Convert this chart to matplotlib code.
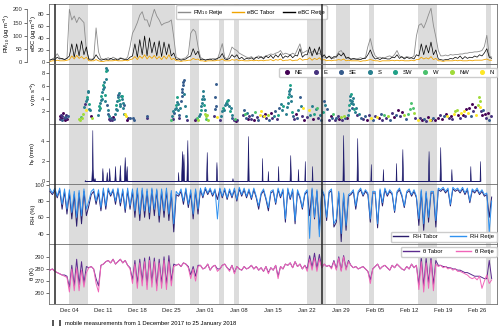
import matplotlib
matplotlib.use('Agg')
import matplotlib.pyplot as plt
import matplotlib.dates as mdates
from matplotlib.lines import Line2D
import numpy as np
import pandas as pd

plt.rcParams['font.family'] = ['Liberation Sans', 'DejaVu Sans']
plt.rcParams['font.size'] = 4.2
plt.rcParams['mathtext.fontset'] = 'custom'
plt.rcParams['mathtext.rm'] = 'Liberation Sans'
plt.rcParams['mathtext.it'] = 'Liberation Sans:italic'
plt.rcParams['axes.linewidth'] = 0.6

#----------------------------------------------------------------------------- data (12-hourly, from 30 Nov 2017 00:00)
start = pd.Timestamp('2017-11-30')

pm10_retje = [
    10, 12, 20, 33, 18, 12, 12, 15, 200, 160, 175, 150, 170, 160,
    150, 45, 15, 12, 15, 130, 40, 15, 12, 14, 18, 12, 20, 15,
    12, 18, 15, 12, 20, 60, 110, 128, 150, 178, 191, 160, 160, 134,
    170, 200, 175, 160, 140, 147, 150, 153, 160, 96, 20, 15, 12, 15,
    18, 30, 110, 125, 115, 60, 20, 12, 10, 12, 12, 15, 14, 12,
    40, 71, 20, 12, 30, 58, 50, 45, 35, 30, 25, 20, 18, 22,
    15, 20, 25, 18, 20, 25, 28, 32, 30, 35, 38, 45, 30, 35,
    32, 28, 35, 30, 50, 70, 35, 40, 45, 35, 40, 45, 30, 35,
    25, 20, 18, 22, 20, 15, 25, 40, 45, 30, 20, 15, 15, 12,
    12, 15, 18, 14, 20, 60, 90, 50, 25, 18, 20, 15, 18, 22,
    25, 20, 30, 45, 25, 20, 18, 22, 20, 18, 25, 100, 140, 146,
    130, 153, 180, 204, 140, 96, 45, 25, 25, 28, 25, 30, 28, 30,
    30, 32, 32, 35, 35, 38, 38, 40, 40, 42, 45, 60, 102, 25,
    20]

ebc_retje = [
    3, 5, 4, 8, 5, 6, 4, 6, 10, 30, 8, 30, 10, 35,
    12, 25, 4, 3, 5, 12, 6, 3, 4, 5, 3, 6, 4, 5,
    3, 6, 5, 4, 4, 8, 10, 30, 8, 37, 12, 43, 10, 40,
    15, 33, 10, 35, 9, 33, 12, 30, 10, 15, 4, 5, 3, 4,
    5, 8, 10, 22, 12, 18, 4, 5, 3, 4, 5, 3, 4, 6,
    8, 14, 5, 4, 6, 12, 8, 12, 5, 8, 4, 6, 5, 7,
    4, 8, 6, 9, 5, 10, 7, 11, 6, 12, 8, 14, 6, 10,
    8, 12, 7, 11, 10, 22, 8, 12, 12, 25, 10, 22, 12, 25,
    8, 12, 6, 10, 5, 9, 8, 14, 10, 15, 6, 8, 4, 6,
    5, 4, 4, 6, 6, 12, 20, 10, 5, 6, 4, 7, 6, 5,
    5, 8, 7, 12, 6, 9, 5, 8, 6, 7, 5, 12, 10, 30,
    12, 28, 15, 33, 12, 20, 5, 4, 3, 4, 4, 6, 5, 8,
    6, 10, 5, 9, 6, 8, 7, 10, 8, 12, 10, 15, 22, 8,
    6]

ebc_tabor = [
    1, 2, 2, 3, 2, 2, 2, 3, 4, 10, 5, 11, 6, 9,
    5, 8, 2, 2, 2, 4, 2, 1, 1, 2, 2, 2, 2, 3,
    2, 2, 2, 3, 2, 4, 5, 9, 4, 10, 6, 12, 5, 10,
    6, 11, 5, 9, 4, 10, 5, 12, 4, 6, 2, 2, 1, 2,
    2, 3, 3, 6, 4, 5, 2, 2, 1, 2, 2, 2, 2, 3,
    3, 5, 2, 2, 2, 4, 3, 4, 2, 3, 2, 2, 2, 3,
    2, 3, 2, 3, 2, 3, 3, 4, 2, 4, 3, 5, 2, 3,
    3, 4, 2, 3, 3, 6, 3, 4, 4, 7, 3, 6, 4, 7,
    3, 4, 2, 3, 2, 3, 3, 4, 3, 5, 2, 3, 2, 2,
    2, 2, 1, 2, 2, 3, 4, 3, 2, 2, 1, 2, 2, 2,
    2, 3, 2, 3, 2, 3, 2, 2, 2, 3, 2, 4, 4, 8,
    5, 7, 5, 9, 4, 6, 2, 2, 1, 2, 2, 2, 2, 3,
    2, 3, 2, 2, 2, 3, 2, 3, 3, 3, 3, 4, 5, 3,
    3]

rh_tabor = [
    92, 88, 93, 84, 94, 70, 92, 64, 90, 58, 88, 49, 90, 52,
    92, 62, 74, 88, 92, 76, 90, 68, 93, 70, 94, 86, 93, 76,
    94, 74, 92, 66, 93, 70, 92, 60, 94, 56, 93, 60, 92, 58,
    94, 62, 93, 54, 92, 60, 93, 56, 90, 42, 88, 86, 92, 76,
    94, 72, 90, 58, 93, 64, 94, 84, 95, 88, 94, 86, 93, 82,
    95, 84, 94, 82, 93, 84, 94, 80, 95, 86, 94, 84, 93, 82,
    94, 84, 70, 88, 93, 82, 68, 90, 92, 76, 94, 84, 93, 54,
    94, 82, 93, 52, 92, 84, 70, 88, 92, 62, 94, 58, 92, 45,
    93, 86, 56, 90, 93, 48, 54, 90, 30, 88, 44, 86, 88, 92,
    70, 90, 94, 86, 92, 88, 54, 90, 90, 47, 93, 74, 94, 86,
    92, 88, 66, 90, 94, 86, 72, 90, 93, 86, 92, 84, 50, 92,
    44, 90, 54, 90, 90, 48, 94, 92, 95, 90, 94, 74, 95, 92,
    94, 90, 95, 88, 94, 78, 93, 90, 94, 88, 92, 86, 88, 60,
    85]

rh_retje = [
    95, 90, 96, 86, 96, 76, 95, 70, 94, 66, 92, 60, 93, 62,
    95, 70, 80, 92, 95, 80, 94, 72, 96, 74, 96, 88, 95, 80,
    96, 78, 95, 70, 96, 74, 95, 68, 96, 64, 96, 68, 95, 66,
    96, 70, 95, 62, 95, 68, 96, 64, 93, 52, 92, 88, 95, 80,
    96, 76, 94, 64, 95, 70, 96, 86, 97, 90, 96, 88, 95, 58,
    96, 86, 96, 84, 95, 86, 96, 82, 97, 88, 96, 86, 95, 84,
    96, 86, 74, 90, 95, 84, 72, 92, 94, 78, 96, 86, 95, 58,
    96, 84, 95, 56, 94, 86, 72, 90, 94, 34, 96, 60, 94, 36,
    95, 88, 60, 92, 95, 52, 58, 92, 40, 90, 50, 88, 90, 94,
    74, 92, 96, 88, 94, 90, 58, 92, 92, 52, 95, 78, 96, 88,
    94, 90, 68, 92, 96, 88, 74, 92, 95, 88, 94, 86, 58, 94,
    52, 92, 60, 92, 92, 56, 96, 94, 97, 92, 96, 76, 97, 94,
    96, 92, 97, 90, 96, 80, 95, 92, 96, 90, 94, 88, 90, 42,
    80]

theta_retje = [
    279, 280, 278, 277, 276, 275, 274, 273, 261, 280, 262, 281, 262, 279,
    265, 277, 281, 282, 280, 268, 261, 283, 284, 286, 287, 285, 288, 284,
    286, 288, 285, 287, 283, 280, 268, 284, 264, 285, 266, 286, 263, 287,
    265, 286, 262, 285, 264, 287, 263, 286, 266, 282, 283, 284, 282, 285,
    284, 281, 272, 280, 270, 282, 283, 280, 281, 284, 279, 282, 283, 278,
    280, 283, 284, 281, 278, 283, 276, 282, 280, 279, 282, 280, 281, 283,
    280, 282, 279, 281, 278, 282, 276, 281, 279, 283, 272, 282, 280, 284,
    283, 285, 281, 286, 282, 284, 280, 283, 278, 288, 279, 289, 278, 288,
    281, 284, 282, 283, 280, 286, 279, 289, 278, 290, 279, 286, 283, 281,
    282, 280, 281, 282, 280, 278, 268, 280, 282, 284, 280, 282, 283, 281,
    279, 283, 281, 284, 282, 280, 279, 282, 280, 284, 281, 283, 263, 286,
    261, 285, 264, 287, 262, 284, 282, 283, 281, 282, 280, 281, 279, 280,
    278, 278, 277, 276, 275, 273, 272, 273, 271, 274, 264, 270, 275, 268,
    271]

theta_tabor = [
    279, 280, 278, 277, 276, 275, 275, 274, 265, 283, 266, 288, 267, 286,
    268, 282, 281, 282, 280, 272, 266, 283, 284, 286, 287, 285, 288, 284,
    286, 288, 285, 287, 283, 281, 271, 287, 268, 288, 270, 289, 267, 290,
    269, 289, 266, 288, 268, 290, 267, 291, 270, 284, 283, 284, 282, 285,
    284, 282, 275, 282, 274, 283, 283, 280, 281, 284, 279, 282, 283, 280,
    280, 283, 284, 281, 279, 283, 277, 282, 280, 279, 282, 280, 281, 283,
    280, 282, 279, 281, 278, 282, 277, 281, 279, 283, 274, 282, 280, 284,
    283, 285, 281, 286, 282, 284, 280, 283, 280, 291, 281, 293, 280, 292,
    281, 284, 282, 283, 281, 287, 280, 290, 279, 291, 280, 287, 283, 281,
    282, 280, 281, 282, 280, 278, 271, 280, 282, 284, 280, 282, 283, 281,
    279, 283, 281, 284, 282, 280, 279, 282, 280, 284, 281, 283, 267, 290,
    266, 289, 268, 290, 267, 287, 283, 283, 282, 282, 281, 281, 280, 280,
    279, 279, 278, 277, 277, 276, 275, 274, 274, 274, 273, 272, 272, 287,
    272]

# precipitation events (day since 30 Nov, mm)
precip_day = [
    7.1, 7.2, 7.3, 8.5, 8.65, 8.72, 8.8, 8.95, 9.1, 9.2, 9.3,
    10.65, 10.8, 10.95, 11.55, 11.7, 11.85, 12.05, 12.2, 12.35,
    13.25, 13.4, 13.55, 14.25, 14.4, 14.55, 15.2, 15.4, 15.55, 15.65, 15.8, 15.95,
    26.3, 26.4, 26.5, 27.0, 27.2, 27.35, 27.5, 27.65, 28.1, 28.3, 28.45,
    32.15, 32.3, 32.45, 34.15, 34.3, 34.45, 37.5, 37.6, 37.7, 40.65, 40.8, 40.95,
    43.6, 43.7, 43.8, 44.8, 44.9, 45.0, 46.9, 47.0, 47.1, 49.35, 49.5, 49.65,
    51.0, 51.1, 51.2, 52.4, 52.5, 52.6, 53.9, 54.0, 54.1, 60.25, 60.4, 60.55,
    63.15, 63.3, 63.45, 66.0, 66.1, 66.2, 68.5, 68.6, 68.7, 71.2, 71.3, 71.4,
    72.45, 72.6, 72.75, 77.85, 78.0, 78.15, 80.25, 80.4, 80.55, 82.6, 82.7, 82.8,
    86.5, 86.6, 86.7, 88.5, 88.6, 88.7]
precip_mm = [
    0, 0.1, 0, 0, 1.5, 5.1, 1.2, 0.3, 0, 0.3, 0,
    0, 1.3, 0, 0, 0.9, 0, 0, 1.3, 0,
    0, 1.5, 0, 0, 1.6, 0, 0, 2.4, 0.6, 0.4, 1.5, 0,
    0, 0.9, 0, 0, 3.0, 1.0, 2.7, 0, 0, 4.1, 0,
    0, 2.9, 0, 0, 1.9, 0, 0, 0.3, 0, 0, 4.5, 0,
    0, 2.3, 0, 0, 1.0, 0, 0, 1.5, 0, 0, 2.6, 0,
    0, 1.2, 0, 0, 2.0, 0, 0, 1.5, 0, 0, 4.6, 0,
    0, 4.3, 0, 0, 1.7, 0, 0, 1.2, 0, 0, 1.8, 0,
    0, 3.2, 0, 0, 3.0, 0, 0, 3.4, 0, 0, 1.2, 0,
    0, 1.5, 0, 0, 2.0, 0]

# wind: day since 30 Nov, speed (m/s), direction index
wind_labels = ['NE', 'E', 'SE', 'S', 'SW', 'W', 'NW', 'N']
wind_day = [
    2.0, 2.1, 2.2, 2.3, 2.4, 2.5, 2.6, 2.8, 3.0, 3.1, 3.3, 3.4, 3.6, 3.7,
    5.9, 6.2, 6.4, 6.5, 6.8, 7.0, 7.2, 7.4, 7.5, 7.6, 7.7, 7.8, 7.9, 8.0, 8.1, 8.2, 8.4, 8.6,
    9.9, 10.0, 10.2, 10.3, 10.4, 10.5, 10.6, 10.7, 10.8, 10.9, 11.0, 11.1,
    11.2, 11.3, 11.4, 11.5, 11.6, 11.6, 11.7, 11.8, 11.9, 12.0, 12.1, 12.2,
    12.4, 12.6, 12.8, 13.0, 13.2,
    13.5, 13.6, 13.7, 13.8, 13.9, 14.0, 14.1, 14.2, 14.3, 14.4, 14.5, 14.6, 14.8, 14.9, 15.0, 15.1, 15.2, 15.3,
    15.5, 15.6, 15.8, 16.0, 16.4, 17.1, 17.3, 19.9, 20.0,
    25.0, 25.1, 25.3, 25.4, 25.6, 25.8, 25.9, 26.0, 26.1, 26.2, 26.3, 26.4, 26.5,
    26.6, 26.8, 27.0, 27.1, 27.2, 27.3, 27.4, 27.5, 27.6, 27.7, 27.8, 28.0, 28.2,
    29.9, 30.1, 30.3, 30.6, 30.8, 31.0, 31.1, 31.2, 31.3, 31.4, 31.5, 31.6, 31.7, 31.8, 31.9, 32.0, 32.1, 32.2, 32.4, 32.6,
    33.8, 34.0, 34.1, 34.2, 34.3, 34.4,
    35.0, 35.2, 35.4, 35.6, 35.8, 36.0, 36.2, 36.4, 36.5, 36.7, 36.8, 37.0, 37.2, 37.4, 37.6,
    37.9, 38.1, 38.3, 38.6, 39.8, 40.0, 40.2, 40.4, 40.6, 40.8, 41.0,
    41.4, 41.7, 42.0, 42.3, 42.6, 42.9, 43.2, 43.5, 43.8, 44.0, 44.3, 44.6, 44.9, 45.2, 45.5, 45.8, 46.1, 46.4, 46.7, 47.0,
    47.2, 47.5, 47.8, 48.0,
    48.7, 48.9, 49.0, 49.1, 49.2, 49.3, 49.4, 49.5, 49.6, 49.7, 49.8, 50.0,
    50.3, 50.6, 50.9, 51.2, 51.5, 51.7, 52.0, 52.2, 52.4,
    53.0, 53.3, 53.6, 53.9, 54.2, 54.5, 54.8, 55.0, 55.3, 55.6, 55.9, 56.2, 56.5, 56.7, 57.0,
    57.5, 57.8, 58.1, 58.4, 58.7, 59.0, 59.3, 59.6, 59.9, 60.2, 60.5, 60.8, 61.1,
    61.4, 61.6, 61.7, 61.8, 61.9, 62.0, 62.1, 62.2, 62.3, 62.4, 62.5, 62.6, 62.8, 63.0, 63.3, 63.6, 64.0,
    64.5, 64.9, 65.3, 65.7, 66.1, 66.5, 66.9, 67.3, 67.7, 68.1, 68.5, 68.9, 69.3, 69.7, 70.1,
    70.5, 70.9, 71.3, 71.7, 72.1, 72.5, 72.9, 73.3, 73.7, 74.1, 74.4, 74.7, 75.0, 75.3,
    75.8, 76.2, 76.6, 77.0, 77.4, 77.8, 78.2, 78.6, 79.0, 79.4,
    79.9, 80.3, 80.7, 81.1, 81.5, 81.8, 82.2,
    82.6, 82.9, 83.2, 83.5, 83.8, 84.1, 84.4, 84.7, 85.0, 85.2, 85.5, 85.8, 86.1, 86.4, 86.7, 86.9, 87.2, 87.5, 87.8,
    88.1, 88.3, 88.5, 88.6, 88.8, 89.0, 89.3, 89.6, 89.9, 90.2, 90.5, 90.8]
wind_speed = [
    1.2, 0.8, 1.5, 1.0, 0.6, 1.3, 1.7, 0.9, 1.1, 0.7, 1.4, 1.0, 0.8, 1.2,
    0.8, 0.6, 1.1, 0.9, 1.6, 2.7, 3.2, 2.2, 3.7, 4.3, 4.0, 5.0, 5.3, 3.2, 2.4, 2.2, 1.3, 0.9,
    1.5, 2.2, 2.8, 3.3, 2.6, 3.8, 4.5, 4.0, 5.0, 5.6, 6.2, 6.6,
    5.8, 4.6, 3.6, 7.2, 8.4, 8.9, 8.6, 3.0, 2.2, 1.6, 1.2, 0.8,
    0.7, 1.0, 0.6, 1.1, 0.8,
    1.6, 2.4, 3.0, 2.2, 3.6, 4.2, 4.6, 4.9, 3.8, 3.2, 2.8, 4.4, 3.9, 4.4, 3.4, 2.5, 3.0, 1.6,
    1.6, 1.3, 0.6, 0.9, 1.0, 0.9, 0.7, 1.2, 1.0,
    0.6, 1.3, 0.8, 2.0, 1.7, 2.4, 3.0, 2.6, 3.5, 4.2, 3.1, 2.2, 1.4,
    1.0, 2.5, 3.6, 4.4, 5.0, 5.6, 6.2, 6.6, 7.0, 4.8, 2.8, 1.2, 0.7,
    0.6, 0.8, 1.0, 0.7, 1.2, 1.6, 2.2, 2.8, 3.4, 3.9, 4.5, 5.2, 4.0, 3.0, 2.2, 1.6, 1.2, 0.8, 1.4, 0.6,
    1.2, 2.4, 4.2, 6.3, 2.8, 1.1,
    0.6, 1.2, 2.0, 2.6, 2.2, 3.0, 3.4, 3.7, 3.2, 3.8, 2.8, 2.0, 2.5, 1.5, 1.0,
    0.6, 0.8, 0.5, 0.7, 1.4, 2.2, 1.6, 1.0, 1.8, 0.8, 1.2,
    0.8, 1.4, 0.6, 1.9, 1.1, 0.7, 1.5, 2.0, 1.2, 1.3, 1.6, 0.9, 1.4, 0.6, 1.8, 1.0, 1.3, 2.1, 0.8, 1.5,
    2.6, 3.2, 2.2, 2.9,
    1.6, 2.7, 3.4, 4.3, 4.8, 5.3, 6.1, 5.6, 4.5, 3.7, 1.9, 1.2,
    0.8, 1.6, 1.0, 2.2, 4.3, 2.9, 1.2, 2.5, 0.7,
    1.1, 2.2, 1.5, 2.8, 0.8, 1.6, 2.4, 2.5, 1.0, 1.4, 0.7, 1.9, 3.6, 3.0, 2.4,
    0.7, 1.2, 0.9, 1.6, 0.6, 1.0, 1.3, 0.8, 1.1, 0.7, 1.2, 0.9, 1.0,
    1.4, 2.2, 3.0, 3.8, 4.4, 3.4, 4.8, 2.6, 3.6, 4.1, 3.2, 2.4, 1.9, 2.6, 1.5, 1.6, 1.0,
    0.8, 1.2, 0.6, 1.5, 1.0, 0.7, 1.3, 1.1, 0.9, 1.6, 0.6, 1.4, 1.0, 1.2, 0.7,
    1.8, 1.1, 1.5, 2.2, 1.3, 1.9, 1.4, 0.8, 1.6, 2.4, 3.3, 2.6, 1.8, 1.0,
    0.7, 1.0, 0.6, 0.8, 0.5, 1.1, 0.7, 0.6, 0.9, 0.6,
    1.0, 1.4, 0.8, 1.2, 1.6, 1.3, 0.9,
    1.2, 0.8, 1.6, 2.0, 2.2, 1.4, 0.9, 1.8, 1.5, 2.1, 1.2, 2.4, 1.7, 2.6, 1.3, 3.2, 2.0, 2.7, 1.5,
    3.0, 4.3, 3.7, 2.7, 2.0, 1.4, 2.2, 1.6, 1.0, 1.8, 0.7, 1.2]
wind_dir = [
    0, 1, 1, 0, 2, 1, 0, 1, 2, 0, 1, 1, 0, 2,
    6, 6, 5, 6, 6, 3, 1, 7, 3, 4, 3, 3, 3, 4, 3, 3, 0, 6,
    3, 3, 4, 3, 4, 3, 4, 3, 3, 3, 4, 3,
    3, 4, 3, 3, 4, 3, 3, 2, 3, 2, 3, 1,
    1, 2, 1, 0, 2,
    3, 3, 4, 3, 3, 3, 2, 3, 4, 3, 3, 3, 3, 4, 3, 3, 2, 3,
    7, 7, 0, 1, 2, 2, 2, 2, 1,
    5, 3, 1, 3, 2, 3, 4, 3, 3, 4, 3, 3, 2,
    1, 3, 2, 2, 2, 2, 2, 2, 2, 3, 3, 3, 1,
    0, 1, 5, 6, 3, 3, 4, 3, 3, 3, 3, 3, 3, 4, 3, 6, 6, 5, 6, 6,
    1, 2, 2, 2, 2, 7,
    1, 3, 3, 4, 3, 3, 3, 4, 3, 3, 3, 4, 3, 3, 2,
    1, 5, 0, 1, 1, 2, 5, 2, 3, 0, 1,
    1, 2, 0, 5, 1, 2, 7, 7, 1, 7, 0, 1, 6, 2, 0, 1, 3, 2, 1, 4,
    2, 3, 3, 4,
    3, 3, 3, 4, 3, 3, 4, 3, 3, 3, 4, 2,
    1, 0, 2, 3, 2, 3, 1, 7, 0,
    1, 7, 3, 3, 0, 4, 3, 5, 1, 3, 2, 4, 2, 3, 2,
    1, 0, 2, 5, 1, 2, 1, 0, 6, 1, 6, 2, 0,
    3, 3, 4, 3, 3, 3, 4, 2, 3, 3, 3, 4, 3, 3, 1, 3, 2,
    1, 2, 0, 1, 7, 2, 1, 7, 0, 2, 1, 5, 1, 6, 2,
    1, 0, 2, 0, 1, 0, 6, 2, 5, 5, 5, 5, 6, 1,
    7, 1, 0, 2, 1, 0, 7, 1, 2, 0,
    0, 1, 0, 2, 0, 7, 1,
    0, 1, 7, 6, 6, 0, 1, 7, 0, 7, 1, 0, 7, 0, 2, 0, 1, 0, 7,
    6, 6, 6, 7, 1, 0, 2, 0, 1, 0, 2, 1]

# grey: periods of interest, black: mobile measurement period bounds
shade_periods = [(3.9, 7.8), (16.9, 25.7), (28.8, 30.8), (34.8, 35.8), (37.9, 38.9),
                 (53.0, 56.9), (58.9, 61.8), (65.8, 66.8), (75.8, 79.7), (89.8, 90.9)]
mobile_bounds = [1.0, 56.0]

#----------------------------------------------------------------------------- helpers
def to_time(d):
    return start + pd.to_timedelta(np.asarray(d, dtype=float), unit='D')

t12 = pd.date_range(start, periods=len(pm10_retje), freq='12h')

c_pm = '#8c8c8c'
c_bc_tabor = '#f0a400'
c_rh_tabor = '#2b1d6c'
c_rh_retje = '#3092f0'
c_th_tabor = '#5c2b8e'
c_th_retje = '#f065b8'
c_precip = '#1d1a6b'
c_shade = '#dcdcdc'
c_spine = '#6e6e6e'
leg_kw = dict(fontsize=4.2, borderaxespad=0, borderpad=0.4, framealpha=1, edgecolor='#cccccc')

fig, axes = plt.subplots(5, 1, figsize=(5, 3.32), dpi=100, sharex=True)
fig.subplots_adjust(left=0.098, right=0.994, top=0.988, bottom=0.084, hspace=0)
ax_bc, ax_v, ax_p, ax_rh, ax_th = axes

ax_pm = ax_bc.twinx()
ax_bc.set_zorder(ax_pm.get_zorder() + 1)
ax_bc.patch.set_visible(False)

def decorate(ax, shade=True, bounds=True):
    if shade:
        for a, b in shade_periods:
            ax.axvspan(to_time(a), to_time(b), color=c_shade, lw=0, zorder=0)
    if bounds:
        for d in mobile_bounds:
            ax.axvline(to_time(d), color='#262626', lw=1.1, zorder=6)
    for s in ax.spines.values():
        s.set_color(c_spine)
        s.set_linewidth(0.6)
    ax.tick_params(axis='y', length=2, width=0.5, pad=1.2, colors='#333333', labelsize=4.2)
    ax.tick_params(axis='x', length=0, pad=3, colors='#222222', labelsize=4.2)

decorate(ax_pm, shade=True, bounds=False)
decorate(ax_bc, shade=False, bounds=True)
for ax in (ax_v, ax_p, ax_rh, ax_th):
    decorate(ax)

#----------------------------------------------------------------------------- panel 1: PM10 / eBC
l_pm, = ax_pm.plot(t12, pm10_retje, color=c_pm, lw=0.6)
l_bct, = ax_bc.plot(t12, ebc_tabor, color=c_bc_tabor, lw=0.6, zorder=3)
l_bcr, = ax_bc.plot(t12, ebc_retje, color='black', lw=0.5, zorder=2)
ax_bc.set_ylim(-3.3, 96)
ax_bc.set_yticks([0, 20, 40, 60, 80])
ax_pm.set_ylim(-5.7, 220)
ax_pm.set_yticks([0, 50, 100, 150, 200])
ax_pm.yaxis.tick_left()
ax_pm.yaxis.set_label_position('left')
ax_pm.spines['left'].set_position(('outward', 16))
ax_pm.spines['left'].set_bounds(0, 200)
ax_pm.spines['right'].set_visible(False)
ax_pm.spines['top'].set_visible(False)
ax_pm.spines['bottom'].set_visible(False)
ax_bc.set_ylabel('eBC (µg m$^{-3}$)')
ax_pm.set_ylabel('PM$_{10}$ (µg m$^{-3}$)')
ax_bc.yaxis.set_label_coords(-0.022, 0.5)
ax_pm.yaxis.set_label_coords(-0.082, 0.5)
leg = ax_bc.legend([l_pm, l_bct, l_bcr], ['PM$_{10}$ Retje', 'eBC Tabor', 'eBC Retje'],
                   ncol=3, loc='upper left', bbox_to_anchor=(0.283, 0.975),
                   handlelength=2.0, handletextpad=0.5, columnspacing=1.5, **leg_kw)
for h in leg.get_lines():
    h.set_linewidth(1.0)

#----------------------------------------------------------------------------- panel 2: wind
cols = plt.cm.viridis(np.linspace(0, 1, len(wind_labels)))
w_t = to_time(wind_day)
w_v = np.array(wind_speed)
w_d = np.array(wind_dir)
handles = []
for i, lab in enumerate(wind_labels):
    m = w_d == i
    ax_v.scatter(w_t[m], w_v[m], s=4.5, color=cols[i], lw=0, zorder=3)
    handles.append(Line2D([], [], marker='o', ls='none', color=cols[i], ms=2.6, label=lab))
ax_v.set_ylim(0, 9.5)
ax_v.set_yticks([2, 4, 6, 8])
ax_v.set_ylabel('v (m s$^{-1}$)')
ax_v.yaxis.set_label_coords(-0.022, 0.5)
ax_v.legend(handles=handles, ncol=8, loc='upper right', bbox_to_anchor=(0.999, 0.94),
            handletextpad=0.3, columnspacing=1.3, **leg_kw)

#----------------------------------------------------------------------------- panel 3: precipitation
p_t = to_time(precip_day)
ax_p.fill_between(p_t, 0, precip_mm, color=c_precip, lw=0.4, zorder=3)
ax_p.set_ylim(-0.3, 5.7)
ax_p.set_yticks([0, 2, 4])
ax_p.set_ylabel('h$_\\mathrm{p}$ (mm)')
ax_p.yaxis.set_label_coords(-0.022, 0.5)

#----------------------------------------------------------------------------- panel 4: RH
l_rt, = ax_rh.plot(t12, rh_tabor, color=c_rh_tabor, lw=0.7, zorder=3)
l_rr, = ax_rh.plot(t12, rh_retje, color=c_rh_retje, lw=0.7, zorder=4)
ax_rh.set_ylim(27, 101)
ax_rh.set_yticks([40, 60, 80, 100])
ax_rh.set_ylabel('RH (%)')
ax_rh.yaxis.set_label_coords(-0.030, 0.5)
leg = ax_rh.legend([l_rt, l_rr], ['RH Tabor', 'RH Retje'], ncol=2, loc='lower right',
                   bbox_to_anchor=(0.999, 0.04), handlelength=2.6, columnspacing=2.2, **leg_kw)
for h in leg.get_lines():
    h.set_linewidth(1.0)

#----------------------------------------------------------------------------- panel 5: potential temperature
l_tt, = ax_th.plot(t12, theta_tabor, color=c_th_tabor, lw=0.7, zorder=3)
l_tr, = ax_th.plot(t12, theta_retje, color=c_th_retje, lw=0.7, zorder=4)
ax_th.set_ylim(251, 300.5)
ax_th.set_yticks([260, 270, 280, 290])
ax_th.set_ylabel('θ (K)')
ax_th.yaxis.set_label_coords(-0.032, 0.5)
leg = ax_th.legend([l_tt, l_tr], ['θ Tabor', 'θ Retje'], ncol=2, loc='upper right',
                   bbox_to_anchor=(0.999, 0.955), handlelength=2.6, columnspacing=2.2, **leg_kw)
for h in leg.get_lines():
    h.set_linewidth(1.0)

ax_th.set_xlim(to_time(-0.2), to_time(92.1))
ax_th.xaxis.set_major_locator(mdates.WeekdayLocator(byweekday=mdates.MO))
ax_th.xaxis.set_major_formatter(mdates.DateFormatter('%b %d'))

#----------------------------------------------------------------------------- mobile measurement note
mark = Line2D([], [], marker='|', ls='none', color='#262626', ms=5, mew=1.1)
fig.legend([mark], ['mobile measurements from 1 December 2017 to 25 January 2018'],
           numpoints=2, loc='center left', bbox_to_anchor=(0.102, 0.027), frameon=False,
           fontsize=4.2, handlelength=1.8, handletextpad=0.6, borderpad=0, borderaxespad=0)

fig.savefig('out.png', dpi=100)
